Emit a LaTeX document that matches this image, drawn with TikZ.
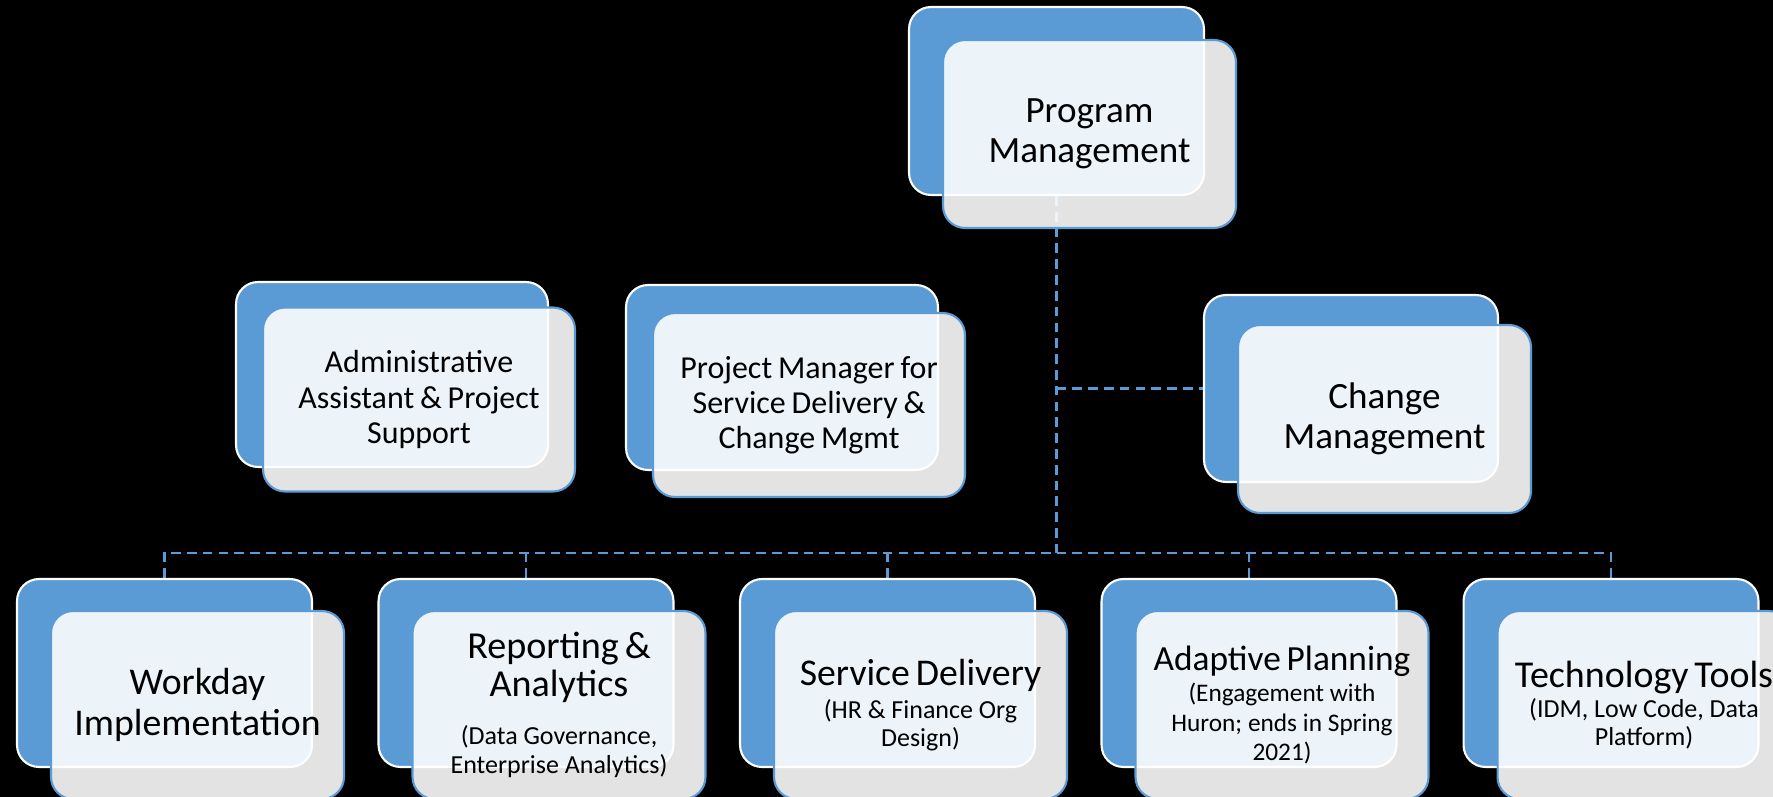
\documentclass[tikz,border=0pt]{standalone}
\usepackage{fontspec}
\setmainfont{Carlito}
\usetikzlibrary{backgrounds}
\definecolor{accentblue}{HTML}{5B9BD5}
\def\setfs#1#2{\fontsize{#1}{#2}\selectfont}
\tikzset{
  backbox/.style={draw=white, line width=1.2pt, fill=accentblue, rounded corners=0.44cm,
    minimum width=5.9cm, minimum height=3.76cm, inner sep=0pt},
  frontbox/.style={draw=accentblue, line width=1.2pt, fill=white, fill opacity=0.89, text opacity=1,
    rounded corners=0.44cm, minimum width=5.86cm, minimum height=3.76cm, inner sep=0pt,
    text width=5.8cm, align=center},
  link/.style={draw=accentblue, line width=1.2pt, dash pattern=on 5.5pt off 3.5pt},
}

\begin{document}
\begin{tikzpicture}[x=0.02cm, y=-0.02cm]
	\useasboundingbox (0, 0) rectangle (1773, 797);
	%%%%% top %%%%%
	\node[backbox] (pmB) at (1056.5, 101) {};
	\node[frontbox] (pmF) at ([shift={(33,33)}]pmB.center) {\setfs{21.1}{22.7}Program\\Management\par};
	
	%%%%% middle row %%%%%
	\node[backbox, minimum width=6.24cm, minimum height=3.7cm] (adB) at (392, 374.5) {};
	\node[frontbox, minimum width=6.24cm, minimum height=3.68cm] (adF) at ([shift={(27,25)}]adB.center) {\setfs{18.2}{20}Administrative\\Assistant \& Project\\Support\par};
	
	\node[backbox, minimum width=6.24cm, minimum height=3.7cm] (pjB) at (782, 377.5) {};
	\node[frontbox, minimum width=6.24cm, minimum height=3.68cm] (pjF) at ([shift={(27,27.5)}]pjB.center) {\setfs{18.2}{20}Project Manager for\\Service Delivery \&\\Change Mgmt\par};
	
	\node[backbox, minimum width=5.88cm, minimum height=3.74cm] (cmB) at (1351, 388.5) {};
	\node[frontbox] (cmF) at ([shift={(33.5,30.5)}]cmB.center) {\setfs{21.1}{22.7}Change\\Management\par};
	
	%%%%% bottom row %%%%%
	\node[backbox] (wdB) at (164.5, 673) {};
	\node[frontbox] (wdF) at ([shift={(33,32)}]wdB.center) {\setfs{21.5}{22.9}Workday\\Implementation\par};
	
	\node[backbox] (raB) at (526, 673) {};
	\node[frontbox] (raF) at ([shift={(33,32)}]raB.center) {{\setfs{21.7}{21.8}Reporting \&\\Analytics\par}\vspace{10.4pt}{\setfs{14.8}{16.6}(Data Governance,\\Enterprise Analytics)\par}};
	
	\node[backbox] (sdB) at (887.5, 673) {};
	\node[frontbox] (sdF) at ([shift={(33,32)}]sdB.center) {{\setfs{21.5}{22.7}Service Delivery\par}\vspace{2.6pt}{\setfs{14.8}{16}(HR \& Finance Org\\Design)\par}};
	
	\node[backbox] (apB) at (1249, 673) {};
	\node[frontbox] (apF) at ([shift={(33,32)}]apB.center) {{\setfs{20.1}{22.7}Adaptive Planning\par}\vspace{1.3pt}{\setfs{14.4}{16.7}(Engagement with\\Huron; ends in Spring\\2021)\par}};
	
	\node[backbox] (ttB) at (1611, 673) {};
	\node[frontbox] (ttF) at ([shift={(33,32)}]ttB.center) {{\setfs{21.6}{23.2}Technology Tools\par}\vspace{1.3pt}{\setfs{14.8}{16}(IDM, Low Code, Data\\Platform)\par}};
	
	%%%%% connectors %%%%%
	\coordinate (hub) at (1057, 553);
	\begin{scope}[on background layer]
		\fill[black] (0, 0) rectangle (1773, 797);
		\draw[link] (pmB.south) -- (pmB.south |- hub);
		\draw[link] (pmB.south |- cmB.west) -- (cmB.west);
		\draw[link] (wdB.north) |- (hub) -| (ttB.north);
		\draw[link] (raB.north) -- (raB.north |- hub);
		\draw[link] (sdB.north) -- (sdB.north |- hub);
		\draw[link] (apB.north) -- (apB.north |- hub);
	\end{scope}
\end{tikzpicture}
\end{document}
